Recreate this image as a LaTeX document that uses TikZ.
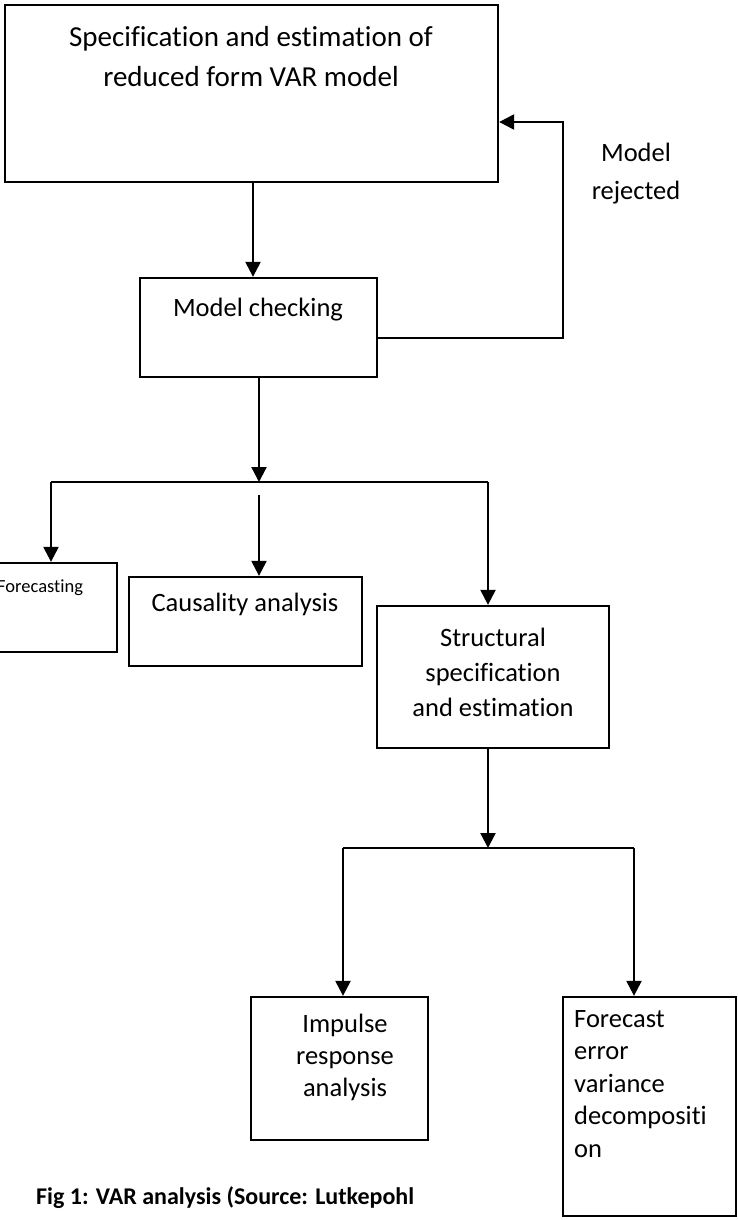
\documentclass[tikz,border=0pt]{standalone}
\usepackage{fontspec}
\setmainfont[Ligatures=NoCommon]{Carlito}
\usetikzlibrary{arrows.meta,calc}
\begin{document}
\begin{tikzpicture}[x=1pt,y=-1pt,
  box/.style={draw,line width=2.3pt,inner sep=0pt},
  arr/.style={line width=2.3pt,-{Triangle[length=15pt,width=15pt]}},
  ln/.style={line width=2.3pt},
  txt/.style={font=\fontsize{26.5}{35}\selectfont,align=center,inner sep=0pt}]
\useasboundingbox (0,0) rectangle (738,1220);
% boxes
\node[box,minimum width=493pt,minimum height=177pt] (A) at (251.5,93.5) {};
\node[box,minimum width=237pt,minimum height=99pt] (B) at (258.5,327.5) {};
\node[box,minimum width=132pt,minimum height=89pt] (C) at (51,607.5) {};
\node[box,minimum width=233pt,minimum height=89pt] (D) at (245.5,621.5) {};
\node[box,minimum width=232pt,minimum height=142pt] (E) at (493,677) {};
\node[box,minimum width=177pt,minimum height=143pt] (F) at (339.5,1068.5) {};
\node[box,minimum width=173pt,minimum height=219pt] (G) at (649.5,1106.5) {};
% texts
\node[txt,font=\fontsize{29}{40}\selectfont] (tA) at (251,57) {Specification and estimation of\\reduced form VAR model};
\node[txt] (tB) at (258,310) {Model checking};
\node[txt,font=\fontsize{26.5}{38}\selectfont] (rej) at (636,174) {Model\\rejected};
\node[txt,font=\fontsize{18.5}{22}\selectfont,anchor=west] (tC) at (-3,588) {Forecasting};
\node[txt] (tD) at (245,604) {Causality analysis};
\node[txt] (tE) at (493,672) {Structural\\specification\\and estimation};
\node[txt,font=\fontsize{26.5}{32}\selectfont] (tF) at (345,1057) {Impulse\\response\\analysis};
\node[txt,font=\fontsize{26.5}{32.5}\selectfont,align=left,anchor=north west] (tG) at (574,1010) {Forecast\\error\\variance\\decompositi\\on};
\node[font=\fontsize{24}{28}\selectfont\bfseries,anchor=base west,inner sep=0pt] (cap) at (36,1204) {Fig 1: VAR analysis (Source: Lutkepohl};
% connectors
\coordinate (ab) at (253,182);
\coordinate (s1) at (259,482);
\coordinate (s2) at (488,848);
\coordinate (fb) at (563,122);
\coordinate (dtop) at (259,495);
\draw[arr] (ab) -- (ab |- B.north);
\draw[arr] ($(B.east)+(0,10.5)$) -| (fb) -- (A.east |- fb);
\draw[arr] (B.south -| s1) -- (s1);
\draw[ln] (C.north |- s1) -- (488,482);
\draw[arr] (C.north |- s1) -- (C.north);
\draw[arr] (dtop) -- (dtop |- D.north);
\draw[arr] (488,482) -- (E.north -| 488,0);
\draw[arr] (E.south -| s2) -- (s2);
\draw[ln] (343,848) -- (634,848);
\draw[arr] (343,848) -- (F.north -| 343,0);
\draw[arr] (634,848) -- (G.north -| 634,0);
\end{tikzpicture}
\end{document}
